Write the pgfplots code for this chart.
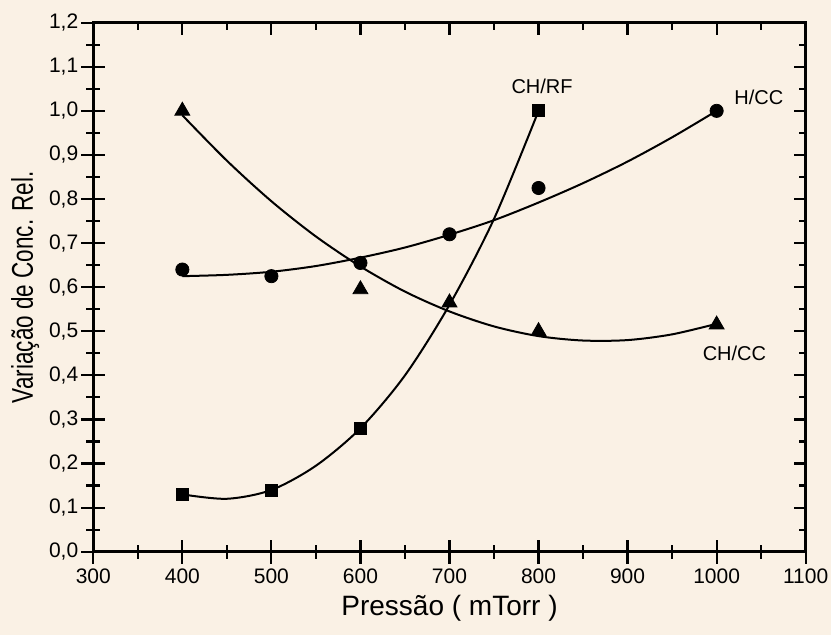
\documentclass[border=0pt]{standalone}
\usepackage{pgfplots}
\pgfplotsset{compat=1.18}
\usepackage{fontspec}
\setmainfont{Liberation Sans}
\newfontfamily\narrowfont[FakeStretch=0.75]{Liberation Sans}
\definecolor{paper}{RGB}{250,241,229}

\begin{document}
\begin{tikzpicture}
\useasboundingbox[fill=paper] (-46.65pt,-41.65pt) rectangle (368.85pt,275.85pt);
\pgfplotsset{
  base/.style={
    at={(0,0)}, anchor=south west, scale only axis,
    width=356.2pt, height=264.5pt,
    xmin=300, xmax=1100, ymin=0, ymax=1.2,
    xtick={300,400,500,600,700,800,900,1000,1100},
    ytick={0,0.1,0.2,0.3,0.4,0.5,0.6,0.7,0.8,0.9,1.0,1.1,1.2},
    minor x tick num=1, minor y tick num=1,
    major tick length=6pt, minor tick length=3.5pt,
    axis line style={line width=1.3pt},
    tick style={line width=1.1pt, black},
  }
}
\begin{axis}[base,
  tick align=inside,
  /pgf/number format/assume math mode=true,
  xticklabel style={font=\fontsize{10.5}{12}\selectfont, yshift=-5pt, /pgf/number format/.cd, fixed, precision=0, 1000 sep={}},
  yticklabel style={font=\fontsize{10.5}{12}\selectfont, xshift=-4pt, /pgf/number format/.cd, use comma, fixed, fixed zerofill, precision=1},
  xlabel={Pressão ( mTorr )},
  ylabel={Variação de Conc. Rel.},
  xlabel style={font=\fontsize{14}{16}\selectfont, yshift=1pt},
  ylabel style={font=\narrowfont\fontsize{15}{17}\selectfont, yshift=-2pt},
]
% CH/CC fit
\addplot[black, line width=1pt, smooth, no markers] coordinates {
 (400,0.990) (450,0.887) (500,0.795) (550,0.715) (600,0.647) (650,0.590)
 (700,0.545) (750,0.511) (800,0.489) (850,0.479) (900,0.480) (950,0.493) (1000,0.517)};
% H/CC fit
\addplot[black, line width=1pt, smooth, no markers] coordinates {
 (400,0.625) (450,0.628) (500,0.635) (550,0.648) (600,0.667) (650,0.690)
 (700,0.719) (750,0.752) (800,0.792) (850,0.836) (900,0.885) (950,0.940) (1000,1.000)};
% CH/RF fit
\addplot[black, line width=1pt, smooth, no markers] coordinates {
 (400,0.130) (450,0.120) (500,0.140) (550,0.195) (600,0.280) (650,0.400)
 (700,0.560) (750,0.755) (800,1.000)};
% data
\addplot[only marks, mark=square*, mark size=3pt, black] coordinates {
 (400,0.13) (500,0.14) (600,0.28) (800,1.0)};
\addplot[only marks, mark=*, mark size=3.3pt, black] coordinates {
 (400,0.64) (500,0.625) (600,0.655) (700,0.72) (800,0.825) (1000,1.0)};
\addplot[only marks, mark=triangle*, mark size=4.3pt, black] coordinates {
 (400,1.0) (600,0.595) (700,0.565) (800,0.50) (1000,0.515)};
\node[font=\fontsize{10}{12}\selectfont] at (axis cs:804,1.055) {CH/RF};
\node[font=\fontsize{10}{12}\selectfont, anchor=west] at (axis cs:1012,1.03) {H/CC};
\node[font=\fontsize{10}{12}\selectfont] at (axis cs:1020,0.45) {CH/CC};
\end{axis}
\begin{axis}[base,
  tick align=outside, xtick pos=lower, ytick pos=left,
  xticklabels={}, yticklabels={},
]
\end{axis}
\end{tikzpicture}
\end{document}
